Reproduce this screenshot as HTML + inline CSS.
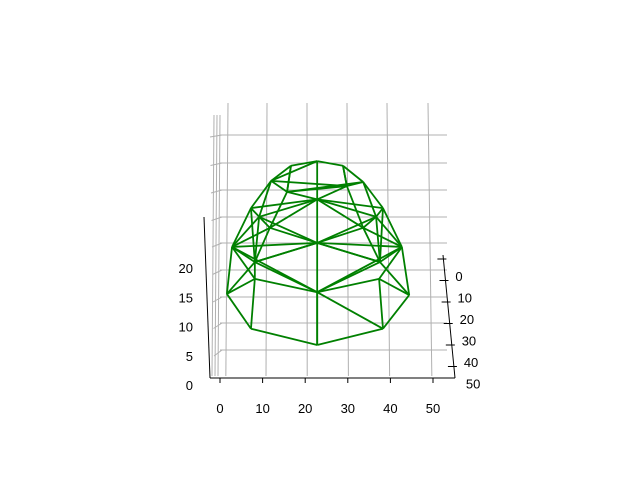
<!DOCTYPE html>
<html><head><meta charset="utf-8"><style>
body{margin:0;background:#fff}
svg{display:block;font-family:"Liberation Sans",sans-serif;font-size:13px}
</style></head><body>
<svg id="chart" width="640" height="480" viewBox="0 0 640 480">
<g id="grid" stroke="#b0b0b0" stroke-width="1" fill="none"></g>
<g id="axes" stroke="#000" stroke-width="1" fill="none"></g>
<g id="labels" fill="#000"></g>
<g id="mesh" stroke="#008000" stroke-width="1.8" fill="none" stroke-linejoin="round"></g>
</svg>
<script>
const xTicks=[0,10,20,30,40,50];
const yTicks=[0,10,20,30,40,50];
const zTicks=[0,5,10,15,20];
const nodeU=[22.6,16.5,28.6,11.9,33.3,15.6,29.5,7.2,37.9,9.1,22.6,36.3,11.6,33.3,22.6,2.8,42.3,8.1,37.2,8.1,22.6,37.0,1.6,7.2,22.6,37.9,44.0];
const nodeW=[38.6,37.8,37.8,35.2,35.0,33.3,34.3,30.5,30.5,29.0,32.0,29.0,27.1,27.1,24.5,23.8,23.8,21.2,21.2,18.3,16.0,18.3,15.7,9.7,6.9,9.7,15.5];
const edgeA=[22,23,24,25,22,26,22,23,19,20,20,20,21,21,15,16,15,16,0,10,14,20,0,0,1,2,3,4,7,8,1,5,6,3,4,5,6,7,8,9,11,12,13,9,10,7,8,9,11,15,16,17,18,12,13,14,14,17,3,4,15,16,2,1,0,3,4,7,8,9,11,12,13,15,16,17,18,22,26,15,16,5,6];
const edgeB=[23,24,25,26,15,16,19,19,20,21,25,24,25,26,19,21,17,18,10,14,20,24,1,2,3,4,7,8,15,16,5,6,2,5,6,10,10,9,11,12,13,14,14,10,11,17,18,17,18,12,13,20,20,17,18,17,18,19,9,11,9,11,6,5,3,6,5,10,10,14,14,10,10,14,14,14,14,17,18,20,20,12,13];
const NS='http://www.w3.org/2000/svg';
function sx(u){return 220+4.3*u;}
function sy(w){return 385-5.8*w;}
function mk(t,a,p){const e=document.createElementNS(NS,t);for(const k in a)e.setAttribute(k,a[k]);p.appendChild(e);return e;}
const grid=document.getElementById('grid'),axes=document.getElementById('axes'),labels=document.getElementById('labels'),mesh=document.getElementById('mesh');
[228,267,307,347,387,428].forEach(x=>{const l=mk('line',{x1:x,y1:103,x2:x+(x-300)*0.03,y2:376},grid);

});
[135,163,190,217,243,270,297,323,350].forEach(y=>{const l=mk('line',{x1:220,y1:y,x2:447,y2:y},grid);

});
[135,163,190,217,243,270,297,323,350].forEach((y,i)=>{const l=mk('line',{x1:210+i*0.5,y1:y+(i-4)*0.5+4,x2:222,y2:y},grid);

});
[214,217,220].forEach(x=>{const l=mk('line',{x1:x,y1:115,x2:x-2,y2:376},grid);

});
let a=mk('line',{x1:210,y1:378,x2:455,y2:378},axes);


a=mk('line',{x1:443,y1:255,x2:455,y2:378},axes);


a=mk('line',{x1:204,y1:217,x2:210,y2:378},axes);


xTicks.forEach(v=>{const x=220+v*4.26;mk('line',{x1:x,y1:378,x2:x,y2:383},axes);
const t=mk('text',{x:x,y:413,'text-anchor':'middle'},labels);t.textContent=v;

});
yTicks.forEach(v=>{const yy=259+v*2.15;const x=443+(yy-255)*0.098;
mk('line',{x1:x-6,y1:yy,x2:x+3,y2:yy},axes);
const t=mk('text',{x:x+12,y:yy+22,'text-anchor':'start'},labels);t.textContent=v;

});
zTicks.forEach(v=>{const y=385-v*5.85;const t=mk('text',{x:193,y:y+5,'text-anchor':'end'},labels);t.textContent=v;

});
edgeA.forEach((p,i)=>{const q=edgeB[i];const l=mk('line',{x1:sx(nodeU[p]),y1:sy(nodeW[p]),x2:sx(nodeU[q]),y2:sy(nodeW[q])},mesh);

});
</script>
</body></html>
